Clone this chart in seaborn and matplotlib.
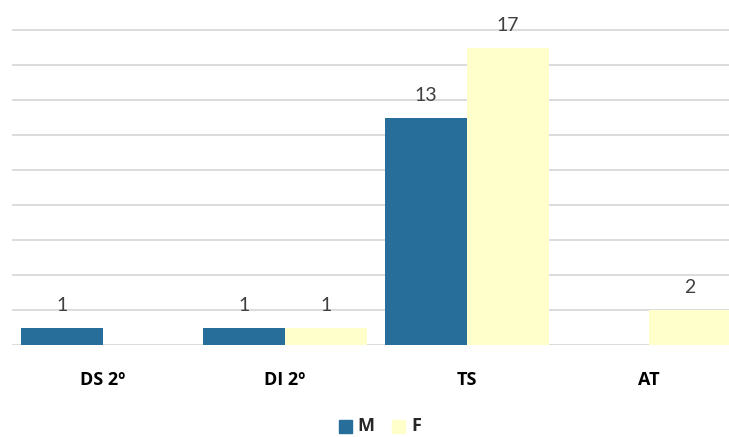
import numpy as np
import pandas as pd
import matplotlib
matplotlib.use("Agg")
import matplotlib.pyplot as plt
import seaborn as sns

categories = ["DS 2º", "DI 2º", "TS", "AT"]
m_values = [1, 1, 13, 0]
f_values = [0, 1, 17, 2]
series = ["M", "F"]
colors = ["#276E9B", "#FFFFCC"]

df = pd.DataFrame({
    "cat": categories * 2,
    "sexo": ["M"] * len(categories) + ["F"] * len(categories),
    "valor": m_values + f_values,
})

sns.set_style("white")
plt.rcParams["font.family"] = ["Lato", "DejaVu Sans"]
bold_font = ["Open Sans", "DejaVu Sans"]

W, H = 729, 437
fig = plt.figure(figsize=(W / 100, H / 100), dpi=100)
unit = 17.5
top = 18.3
ax = fig.add_axes([12 / W, (H - 345) / H, (729 - 12) / W, top * unit / H])

sns.barplot(data=df, x="cat", y="valor", hue="sexo", hue_order=series,
            palette=colors, width=0.9, saturation=1, ax=ax, legend=False,
            edgecolor="none", linewidth=0, zorder=3)

ax.set_xlim(-0.5, (729 - 103) / 182)
ax.set_ylim(0, top)
for y in range(0, 19, 2):
    ax.axhline(y, color="#D9D9D9", lw=1.3, zorder=1)

for cont, vals in zip(ax.containers, [m_values, f_values]):
    labels = [str(v) if v else "" for v in vals]
    ax.bar_label(cont, labels=labels, padding=10, fontsize=14, color="#404040")

for s in ax.spines.values():
    s.set_visible(False)
ax.set_yticks([])
ax.set_xlabel("")
ax.set_ylabel("")
ax.tick_params(axis="x", length=0, pad=19)
ax.set_xticks(range(len(categories)))
ax.set_xticklabels(categories, fontsize=13, fontweight="bold", color="black",
                   family=bold_font)

# legend
ly = 426
fig.patches.append(plt.Rectangle((339 / W, 1 - (ly + 6.5) / H), 13 / W, 13 / H,
                                 transform=fig.transFigure, color=colors[0]))
fig.text(357 / W, 1 - ly / H, "M", fontsize=13, fontweight="bold", va="center",
         family=bold_font)
fig.patches.append(plt.Rectangle((392 / W, 1 - (ly + 6.5) / H), 13 / W, 13 / H,
                                 transform=fig.transFigure, color=colors[1]))
fig.text(411 / W, 1 - ly / H, "F", fontsize=13, fontweight="bold", va="center",
         family=bold_font)

fig.savefig("out.png", dpi=100)
